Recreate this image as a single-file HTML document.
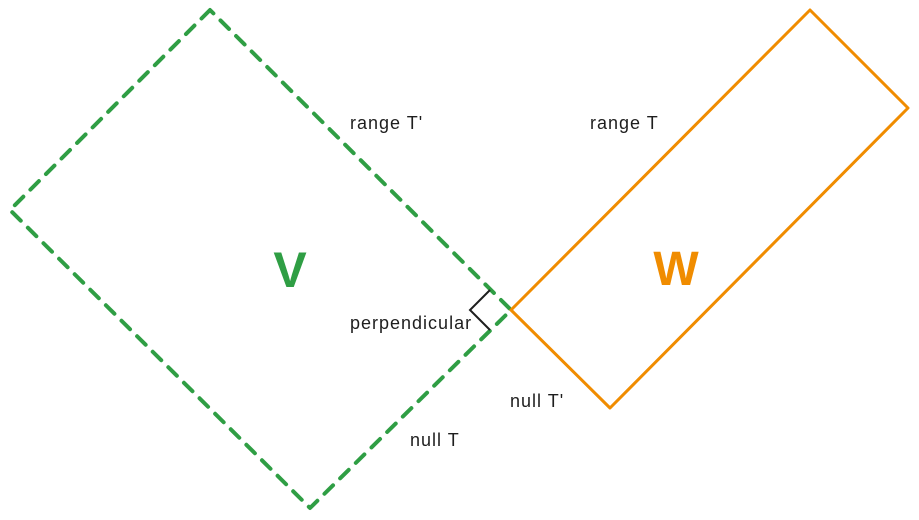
<!DOCTYPE html>
<html><head><style>
body{margin:0;background:#fff;}
svg{display:block}
text{font-family:"Liberation Sans",sans-serif;}
</style></head><body>
<svg width="919" height="520" viewBox="0 0 919 520">
<polygon points="210,10 10,210 310,508 511,310" fill="none" stroke="#2f9e44" stroke-width="4" stroke-dasharray="12,10" stroke-linecap="round" stroke-linejoin="round"/>
<polygon points="511,310 810,10 908,108 610,408" fill="none" stroke="#f08c00" stroke-width="3" stroke-linejoin="round"/>
<polyline points="490,290 470,310 490,330" fill="none" stroke="#1e1e1e" stroke-width="2"/>
<text x="290" y="287" font-size="50" font-weight="bold" fill="#2f9e44" text-anchor="middle">V</text>
<text x="676" y="285" font-size="48" font-weight="bold" fill="#f08c00" text-anchor="middle">W</text>
<g font-size="18" fill="#1e1e1e" letter-spacing="1">
<text x="350" y="129">range T'</text>
<text x="590" y="129">range T</text>
<text x="350" y="329">perpendicular</text>
<text x="510" y="407">null T'</text>
<text x="410" y="446">null T</text>
</g>
</svg>
</body></html>
